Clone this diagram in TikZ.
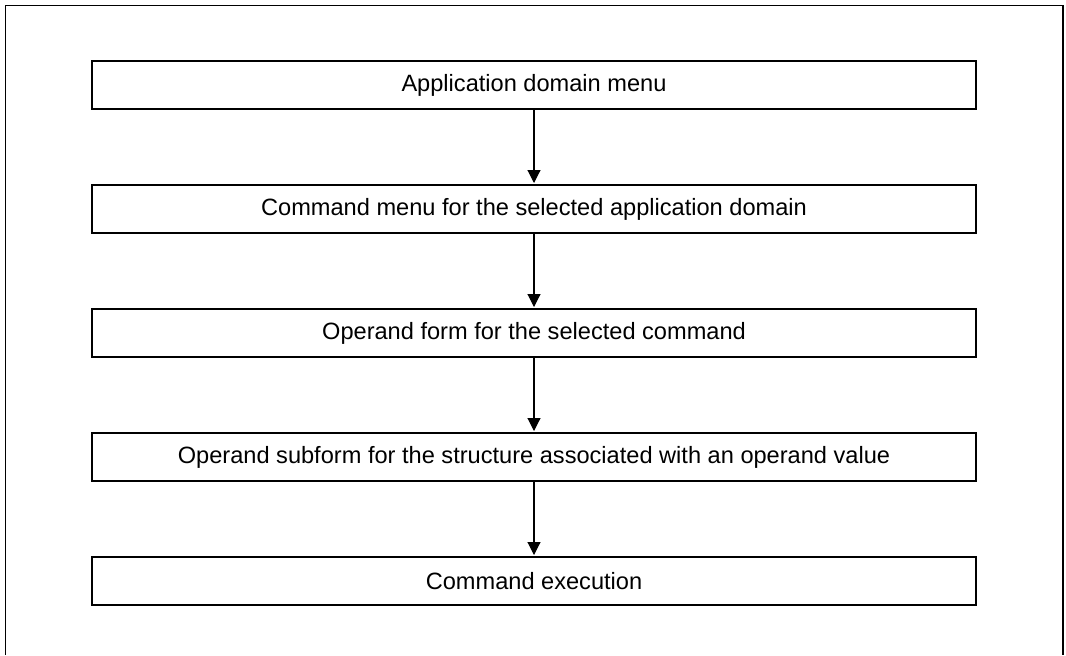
\documentclass[tikz,border=0pt]{standalone}
\usepackage{fontspec}
\setmainfont{Liberation Sans}
\usetikzlibrary{arrows.meta, positioning}

\begin{document}
\begin{tikzpicture}[x=1pt, y=1pt, >={Triangle[width=6.5pt, length=6.5pt]}]

% --- Styles ---
\tikzset{
    stepBox/.style={draw=black, line width=0.7pt, minimum width=442pt, minimum height=24pt, inner sep=0pt, outer sep=0pt, font=\fontsize{11.8}{14}\selectfont},
    flowArrow/.style={->, black, line width=0.55pt, shorten >=1pt},
    outerFrame/.style={draw=black, line width=0.75pt},
}

% --- Page size (keeps the margins) ---
\useasboundingbox (0,0) rectangle (533,-327.5);

% --- Frame, open at the bottom ---
\draw[outerFrame] (2.7,-327.5) -- (2.7,-2.7) -- (531.6,-2.7) -- (531.6,-327.5);

% --- The menu levels ---
\begin{scope}[node distance=38pt]
    \node[stepBox] (appMenu) at (267,-42.5) {Application domain menu};
    \node[stepBox, below=of appMenu] (cmdMenu) {Command menu for the selected application domain};
    \node[stepBox, below=of cmdMenu] (opForm) {Operand form for the selected command};
    \node[stepBox, below=of opForm] (opSubform) {Operand subform for the structure associated with an operand value};
    \node[stepBox, below=of opSubform] (cmdExec) {Command execution};
\end{scope}

% --- Arrows between the levels ---
\draw[flowArrow] (appMenu) -- (cmdMenu);
\draw[flowArrow] (cmdMenu) -- (opForm);
\draw[flowArrow] (opForm) -- (opSubform);
\draw[flowArrow] (opSubform) -- (cmdExec);

\end{tikzpicture}
\end{document}
